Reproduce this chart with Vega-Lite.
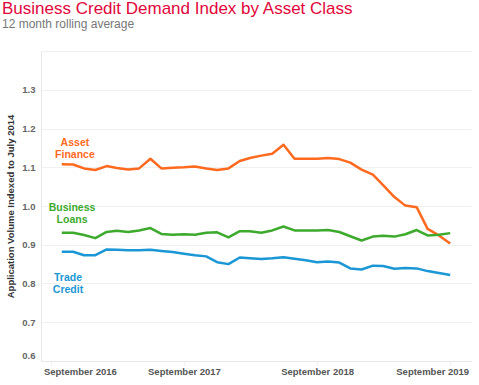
{
  "$schema": "https://vega.github.io/schema/vega-lite/v6.json",
  "width": 430,
  "height": 310,
  "autosize": "none",
  "padding": {"left": 41, "top": 51, "right": 8, "bottom": 24},
  "background": "white",
  "title": {
    "text": "Business Credit Demand Index by Asset Class",
    "subtitle": "12 month rolling average",
    "anchor": "start",
    "frame": "group",
    "dx": -39,
    "offset": 20,
    "font": "Liberation Sans",
    "fontSize": 17,
    "fontWeight": "normal",
    "color": "#E2063B",
    "subtitleFont": "Liberation Sans",
    "subtitleFontSize": 12,
    "subtitleColor": "#777777",
    "subtitlePadding": 1
  },
  "config": {
    "view": {"stroke": null},
    "font": "Liberation Sans"
  },
  "datasets": {
    "lines": [
      {"date": "2016-10-01", "series": "Asset Finance", "value": 1.108},
      {"date": "2016-11-01", "series": "Asset Finance", "value": 1.107},
      {"date": "2016-12-01", "series": "Asset Finance", "value": 1.097},
      {"date": "2017-01-01", "series": "Asset Finance", "value": 1.093},
      {"date": "2017-02-01", "series": "Asset Finance", "value": 1.103},
      {"date": "2017-03-01", "series": "Asset Finance", "value": 1.098},
      {"date": "2017-04-01", "series": "Asset Finance", "value": 1.094},
      {"date": "2017-05-01", "series": "Asset Finance", "value": 1.097},
      {"date": "2017-06-01", "series": "Asset Finance", "value": 1.122},
      {"date": "2017-07-01", "series": "Asset Finance", "value": 1.097},
      {"date": "2017-08-01", "series": "Asset Finance", "value": 1.099},
      {"date": "2017-09-01", "series": "Asset Finance", "value": 1.100},
      {"date": "2017-10-01", "series": "Asset Finance", "value": 1.102},
      {"date": "2017-11-01", "series": "Asset Finance", "value": 1.097},
      {"date": "2017-12-01", "series": "Asset Finance", "value": 1.093},
      {"date": "2018-01-01", "series": "Asset Finance", "value": 1.097},
      {"date": "2018-02-01", "series": "Asset Finance", "value": 1.116},
      {"date": "2018-03-01", "series": "Asset Finance", "value": 1.124},
      {"date": "2018-04-01", "series": "Asset Finance", "value": 1.130},
      {"date": "2018-05-01", "series": "Asset Finance", "value": 1.135},
      {"date": "2018-06-01", "series": "Asset Finance", "value": 1.158},
      {"date": "2018-07-01", "series": "Asset Finance", "value": 1.122},
      {"date": "2018-08-01", "series": "Asset Finance", "value": 1.122},
      {"date": "2018-09-01", "series": "Asset Finance", "value": 1.122},
      {"date": "2018-10-01", "series": "Asset Finance", "value": 1.124},
      {"date": "2018-11-01", "series": "Asset Finance", "value": 1.121},
      {"date": "2018-12-01", "series": "Asset Finance", "value": 1.112},
      {"date": "2019-01-01", "series": "Asset Finance", "value": 1.094},
      {"date": "2019-02-01", "series": "Asset Finance", "value": 1.081},
      {"date": "2019-03-01", "series": "Asset Finance", "value": 1.054},
      {"date": "2019-04-01", "series": "Asset Finance", "value": 1.023},
      {"date": "2019-05-01", "series": "Asset Finance", "value": 1.001},
      {"date": "2019-06-01", "series": "Asset Finance", "value": 0.997},
      {"date": "2019-07-01", "series": "Asset Finance", "value": 0.941},
      {"date": "2019-08-01", "series": "Asset Finance", "value": 0.924},
      {"date": "2019-09-01", "series": "Asset Finance", "value": 0.903},
      {"date": "2016-10-01", "series": "Business Loans", "value": 0.931},
      {"date": "2016-11-01", "series": "Business Loans", "value": 0.931},
      {"date": "2016-12-01", "series": "Business Loans", "value": 0.925},
      {"date": "2017-01-01", "series": "Business Loans", "value": 0.917},
      {"date": "2017-02-01", "series": "Business Loans", "value": 0.933},
      {"date": "2017-03-01", "series": "Business Loans", "value": 0.936},
      {"date": "2017-04-01", "series": "Business Loans", "value": 0.933},
      {"date": "2017-05-01", "series": "Business Loans", "value": 0.937},
      {"date": "2017-06-01", "series": "Business Loans", "value": 0.943},
      {"date": "2017-07-01", "series": "Business Loans", "value": 0.928},
      {"date": "2017-08-01", "series": "Business Loans", "value": 0.926},
      {"date": "2017-09-01", "series": "Business Loans", "value": 0.927},
      {"date": "2017-10-01", "series": "Business Loans", "value": 0.926},
      {"date": "2017-11-01", "series": "Business Loans", "value": 0.931},
      {"date": "2017-12-01", "series": "Business Loans", "value": 0.932},
      {"date": "2018-01-01", "series": "Business Loans", "value": 0.919},
      {"date": "2018-02-01", "series": "Business Loans", "value": 0.935},
      {"date": "2018-03-01", "series": "Business Loans", "value": 0.935},
      {"date": "2018-04-01", "series": "Business Loans", "value": 0.931},
      {"date": "2018-05-01", "series": "Business Loans", "value": 0.937},
      {"date": "2018-06-01", "series": "Business Loans", "value": 0.947},
      {"date": "2018-07-01", "series": "Business Loans", "value": 0.937},
      {"date": "2018-08-01", "series": "Business Loans", "value": 0.937},
      {"date": "2018-09-01", "series": "Business Loans", "value": 0.937},
      {"date": "2018-10-01", "series": "Business Loans", "value": 0.938},
      {"date": "2018-11-01", "series": "Business Loans", "value": 0.933},
      {"date": "2018-12-01", "series": "Business Loans", "value": 0.922},
      {"date": "2019-01-01", "series": "Business Loans", "value": 0.911},
      {"date": "2019-02-01", "series": "Business Loans", "value": 0.921},
      {"date": "2019-03-01", "series": "Business Loans", "value": 0.923},
      {"date": "2019-04-01", "series": "Business Loans", "value": 0.921},
      {"date": "2019-05-01", "series": "Business Loans", "value": 0.927},
      {"date": "2019-06-01", "series": "Business Loans", "value": 0.938},
      {"date": "2019-07-01", "series": "Business Loans", "value": 0.924},
      {"date": "2019-08-01", "series": "Business Loans", "value": 0.926},
      {"date": "2019-09-01", "series": "Business Loans", "value": 0.930},
      {"date": "2016-10-01", "series": "Trade Credit", "value": 0.882},
      {"date": "2016-11-01", "series": "Trade Credit", "value": 0.882},
      {"date": "2016-12-01", "series": "Trade Credit", "value": 0.873},
      {"date": "2017-01-01", "series": "Trade Credit", "value": 0.873},
      {"date": "2017-02-01", "series": "Trade Credit", "value": 0.888},
      {"date": "2017-03-01", "series": "Trade Credit", "value": 0.887},
      {"date": "2017-04-01", "series": "Trade Credit", "value": 0.886},
      {"date": "2017-05-01", "series": "Trade Credit", "value": 0.886},
      {"date": "2017-06-01", "series": "Trade Credit", "value": 0.887},
      {"date": "2017-07-01", "series": "Trade Credit", "value": 0.884},
      {"date": "2017-08-01", "series": "Trade Credit", "value": 0.881},
      {"date": "2017-09-01", "series": "Trade Credit", "value": 0.877},
      {"date": "2017-10-01", "series": "Trade Credit", "value": 0.873},
      {"date": "2017-11-01", "series": "Trade Credit", "value": 0.870},
      {"date": "2017-12-01", "series": "Trade Credit", "value": 0.855},
      {"date": "2018-01-01", "series": "Trade Credit", "value": 0.850},
      {"date": "2018-02-01", "series": "Trade Credit", "value": 0.867},
      {"date": "2018-03-01", "series": "Trade Credit", "value": 0.865},
      {"date": "2018-04-01", "series": "Trade Credit", "value": 0.863},
      {"date": "2018-05-01", "series": "Trade Credit", "value": 0.865},
      {"date": "2018-06-01", "series": "Trade Credit", "value": 0.868},
      {"date": "2018-07-01", "series": "Trade Credit", "value": 0.864},
      {"date": "2018-08-01", "series": "Trade Credit", "value": 0.860},
      {"date": "2018-09-01", "series": "Trade Credit", "value": 0.855},
      {"date": "2018-10-01", "series": "Trade Credit", "value": 0.857},
      {"date": "2018-11-01", "series": "Trade Credit", "value": 0.854},
      {"date": "2018-12-01", "series": "Trade Credit", "value": 0.839},
      {"date": "2019-01-01", "series": "Trade Credit", "value": 0.836},
      {"date": "2019-02-01", "series": "Trade Credit", "value": 0.846},
      {"date": "2019-03-01", "series": "Trade Credit", "value": 0.845},
      {"date": "2019-04-01", "series": "Trade Credit", "value": 0.838},
      {"date": "2019-05-01", "series": "Trade Credit", "value": 0.840},
      {"date": "2019-06-01", "series": "Trade Credit", "value": 0.839},
      {"date": "2019-07-01", "series": "Trade Credit", "value": 0.832},
      {"date": "2019-08-01", "series": "Trade Credit", "value": 0.827},
      {"date": "2019-09-01", "series": "Trade Credit", "value": 0.822}
    ],
    "labels": [
      {"date": "2016-11-06", "series": "Asset Finance", "value": 1.162, "label": "Asset\nFinance"},
      {"date": "2016-10-29", "series": "Business Loans", "value": 0.994, "label": "Business\nLoans"},
      {"date": "2016-10-18", "series": "Trade Credit", "value": 0.8135, "label": "Trade\nCredit"}
    ]
  },
  "encoding": {
    "x": {
      "field": "date",
      "type": "temporal",
      "scale": {
        "type": "utc",
        "domain": [
          {"year": 2016, "month": 8, "date": 5, "utc": true},
          {"year": 2019, "month": 10, "date": 28, "utc": true}
        ]
      },
      "axis": {
        "title": null,
        "values": [
          {"year": 2016, "month": 9, "date": 1, "utc": true},
          {"year": 2017, "month": 9, "date": 1, "utc": true},
          {"year": 2018, "month": 9, "date": 1, "utc": true},
          {"year": 2019, "month": 9, "date": 1, "utc": true}
        ],
        "format": "%B %Y",
        "grid": false,
        "domainColor": "#e6e6e6",
        "tickColor": "#f0f0f0",
        "tickSize": 4,
        "labelFont": "Liberation Sans",
        "labelFontSize": 9.5,
        "labelFontWeight": "bold",
        "labelColor": "#555555",
        "labelPadding": 1,
        "labelOffset": {
          "condition": [
            {"test": "utcyear(datum.value) == 2016", "value": 29},
            {"test": "utcyear(datum.value) == 2019", "value": -18}
          ],
          "value": 0
        }
      }
    },
    "y": {
      "field": "value",
      "type": "quantitative",
      "scale": {"domain": [0.6, 1.4], "nice": false, "zero": false},
      "axis": {
        "title": "Application Volume Indexed to July 2014",
        "titleFont": "Liberation Sans",
        "titleFontSize": 9.5,
        "titleFontWeight": "bold",
        "titleColor": "#333333",
        "titlePadding": 6,
        "values": [0.6, 0.7, 0.8, 0.9, 1.0, 1.1, 1.2, 1.3, 1.4],
        "labelExpr": "datum.value > 1.35 ? '' : format(datum.value, '.1f')",
        "labelFont": "Liberation Sans",
        "labelFontSize": 9.5,
        "labelFontWeight": "bold",
        "labelColor": "#666666",
        "labelPadding": 6,
        "labelOffset": {
          "condition": {"test": "datum.value < 0.65", "value": -6},
          "value": 0
        },
        "ticks": false,
        "domainColor": "#e6e6e6",
        "gridColor": "#f0f0f0",
        "gridWidth": 1
      }
    },
    "color": {
      "field": "series",
      "type": "nominal",
      "scale": {
        "domain": ["Asset Finance", "Business Loans", "Trade Credit"],
        "range": ["#FF6A1F", "#3DAA2E", "#1A97D4"]
      },
      "legend": null
    }
  },
  "layer": [
    {
      "data": {"name": "lines"},
      "mark": {"type": "line", "strokeWidth": 2.5, "strokeJoin": "round"}
    },
    {
      "data": {"name": "labels"},
      "mark": {
        "type": "text",
        "lineBreak": "\n",
        "font": "Liberation Sans",
        "fontSize": 10.5,
        "fontWeight": "bold",
        "align": "center",
        "baseline": "middle",
        "lineHeight": 12
      },
      "encoding": {"text": {"field": "label"}}
    }
  ]
}
